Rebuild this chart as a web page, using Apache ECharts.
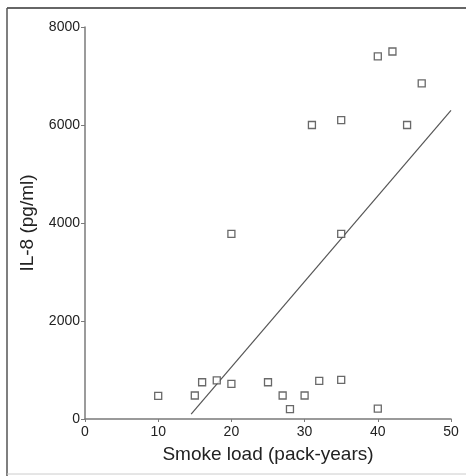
<!DOCTYPE html>
<html>
<head>
<meta charset="utf-8">
<script src="https://cdn.jsdelivr.net/npm/echarts@6/dist/echarts.min.js"></script>
<style>
html,body{margin:0;padding:0;background:#fff;}
#chart{width:466px;height:476px;}
</style>
</head>
<body>
<div id="chart"></div>
<script>
var packYears = [10, 15, 16, 18, 20, 20, 25, 27, 28, 30, 31, 32, 35, 35, 35, 40, 40, 42, 44, 46];
var il8 = [470, 480, 750, 790, 715, 3780, 750, 480, 200, 480, 6000, 780, 800, 3780, 6100, 7400, 210, 7500, 6000, 6850];
var trendX = [14.5, 50];
var trendY = [100, 6300];
var xTicks = [0, 10, 20, 30, 40, 50];
var yTicks = [0, 2000, 4000, 6000, 8000];

var points = packYears.map(function (x, i) { return [x, il8[i]]; });
var trend = trendX.map(function (x, i) { return [x, trendY[i]]; });

var chart = echarts.init(document.getElementById('chart'));
chart.setOption({
  animation: false,
  backgroundColor: '#fff',
  grid: { left: 85, right: 15, top: 27, bottom: 57 },
  xAxis: {
    type: 'value', min: xTicks[0], max: xTicks[xTicks.length - 1], interval: 10,
    name: 'Smoke load (pack-years)', nameLocation: 'middle', nameGap: 26,
    nameTextStyle: { fontFamily: 'Liberation Sans', fontSize: 19, color: '#222' },
    axisLine: { lineStyle: { color: '#7a7a7a', width: 1.5 } },
    axisTick: { show: true, length: 3, inside: false, lineStyle: { color: '#7a7a7a' } },
    axisLabel: { fontFamily: 'Liberation Sans', fontSize: 14, color: '#222', margin: 6,
      formatter: function (v) { return String(v); } },
    splitLine: { show: false }
  },
  yAxis: {
    type: 'value', min: yTicks[0], max: yTicks[yTicks.length - 1], interval: 2000,
    name: 'IL-8 (pg/ml)', nameLocation: 'middle', nameGap: 48,
    nameTextStyle: { fontFamily: 'Liberation Sans', fontSize: 19, color: '#222' },
    axisLine: { show: true, lineStyle: { color: '#7a7a7a', width: 1.5 } },
    axisTick: { show: true, length: 4, lineStyle: { color: '#7a7a7a' } },
    axisLabel: { fontFamily: 'Liberation Sans', fontSize: 14, color: '#222', margin: 5,
      formatter: function (v) { return String(v); } },
    splitLine: { show: false }
  },
  graphic: [
    { type: 'line', shape: { x1: 7, y1: 8, x2: 466, y2: 8 }, style: { stroke: '#333', lineWidth: 1.5 } },
    { type: 'line', shape: { x1: 7, y1: 8, x2: 7, y2: 476 }, style: { stroke: '#555', lineWidth: 1.5 } },
    { type: 'line', shape: { x1: 7, y1: 474, x2: 466, y2: 474 }, style: { stroke: '#ccc', lineWidth: 1 } }
  ],
  series: [
    {
      type: 'line', data: trend, symbol: 'none',
      lineStyle: { color: '#555', width: 1.2 }, z: 1
    },
    {
      type: 'scatter', data: points, symbol: 'rect', symbolSize: 7,
      itemStyle: { color: '#fff', borderColor: '#444', borderWidth: 1.3 }, z: 2
    }
  ]
});
</script>
</body>
</html>
